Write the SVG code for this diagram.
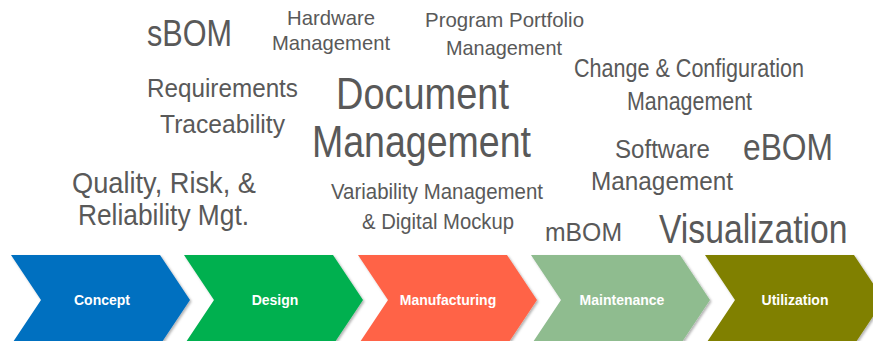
<svg xmlns="http://www.w3.org/2000/svg" width="873" height="341" viewBox="0 0 873 341">
<defs>
<filter id="sh" x="-10%" y="-10%" width="120%" height="120%">
<feDropShadow dx="1.5" dy="1.5" stdDeviation="1.2" flood-color="#000" flood-opacity="0.3"/>
</filter>
<style>
.w{font-family:"Liberation Sans",Arial,sans-serif;fill:#595959;}
.lbl{font-family:"Liberation Sans",Arial,sans-serif;font-weight:bold;font-size:14px;fill:#fff;text-anchor:middle;}
.chev{filter:url(#sh);}
</style>
</defs>
<rect width="873" height="341" fill="#fff"/>
<g id="concept"><path class="chev" d="M11,255 L160,255 L190,300 L160,345 L11,345 L41,300 Z" fill="#0070C0"/><text class="lbl" x="102" y="305">Concept</text></g>
<g id="design"><path class="chev" d="M184,255 L333,255 L363,300 L333,345 L184,345 L214,300 Z" fill="#00B050"/><text class="lbl" x="275" y="305">Design</text></g>
<g id="manufacturing"><path class="chev" d="M358,255 L507,255 L537,300 L507,345 L358,345 L388,300 Z" fill="#FF6347"/><text class="lbl" x="448" y="305">Manufacturing</text></g>
<g id="maintenance"><path class="chev" d="M531,255 L680,255 L710,300 L680,345 L531,345 L561,300 Z" fill="#8FBC8F"/><text class="lbl" x="622" y="305">Maintenance</text></g>
<g id="utilization"><path class="chev" d="M705,255 L854,255 L884,300 L854,345 L705,345 L735,300 Z" fill="#808000"/><text class="lbl" x="795" y="305">Utilization</text></g>

<g id="sbom"><text class="w" x="147" y="46" font-size="37" textLength="85" lengthAdjust="spacingAndGlyphs">sBOM</text></g>
<g id="hardware"><text class="w" x="287" y="25" font-size="21" textLength="88" lengthAdjust="spacingAndGlyphs">Hardware</text><text class="w" x="272" y="50" font-size="21" textLength="118" lengthAdjust="spacingAndGlyphs">Management</text></g>
<g id="program"><text class="w" x="425" y="27" font-size="21" textLength="159" lengthAdjust="spacingAndGlyphs">Program Portfolio</text><text class="w" x="446" y="55" font-size="21" textLength="116" lengthAdjust="spacingAndGlyphs">Management</text></g>
<g id="change"><text class="w" x="574" y="77" font-size="25" textLength="230" lengthAdjust="spacingAndGlyphs">Change &amp; Configuration</text><text class="w" x="627" y="110" font-size="25" textLength="125" lengthAdjust="spacingAndGlyphs">Management</text></g>
<g id="requirements"><text class="w" x="147" y="97" font-size="25" textLength="151" lengthAdjust="spacingAndGlyphs">Requirements</text><text class="w" x="160" y="133" font-size="25" textLength="125" lengthAdjust="spacingAndGlyphs">Traceability</text></g>
<g id="document"><text class="w" x="336" y="109" font-size="44" textLength="173" lengthAdjust="spacingAndGlyphs">Document</text><text class="w" x="312" y="157" font-size="45" textLength="219" lengthAdjust="spacingAndGlyphs">Management</text></g>
<g id="software"><text class="w" x="615" y="158" font-size="25" textLength="95" lengthAdjust="spacingAndGlyphs">Software</text><text class="w" x="591" y="190" font-size="25" textLength="142" lengthAdjust="spacingAndGlyphs">Management</text></g>
<g id="ebom"><text class="w" x="743" y="160" font-size="37" textLength="90" lengthAdjust="spacingAndGlyphs">eBOM</text></g>
<g id="quality"><text class="w" x="72" y="193" font-size="30" textLength="184" lengthAdjust="spacingAndGlyphs">Quality, Risk, &amp;</text><text class="w" x="78" y="225" font-size="30" textLength="171" lengthAdjust="spacingAndGlyphs">Reliability Mgt.</text></g>
<g id="variability"><text class="w" x="331" y="199" font-size="22" textLength="212" lengthAdjust="spacingAndGlyphs">Variability Management</text><text class="w" x="362" y="229" font-size="22" textLength="152" lengthAdjust="spacingAndGlyphs">&amp; Digital Mockup</text></g>
<g id="mbom"><text class="w" x="545" y="241" font-size="26" textLength="77" lengthAdjust="spacingAndGlyphs">mBOM</text></g>
<g id="visualization"><text class="w" transform="translate(659,243) scale(0.842,1)" x="0" y="0" font-size="40">Visualization</text></g>
</svg>
